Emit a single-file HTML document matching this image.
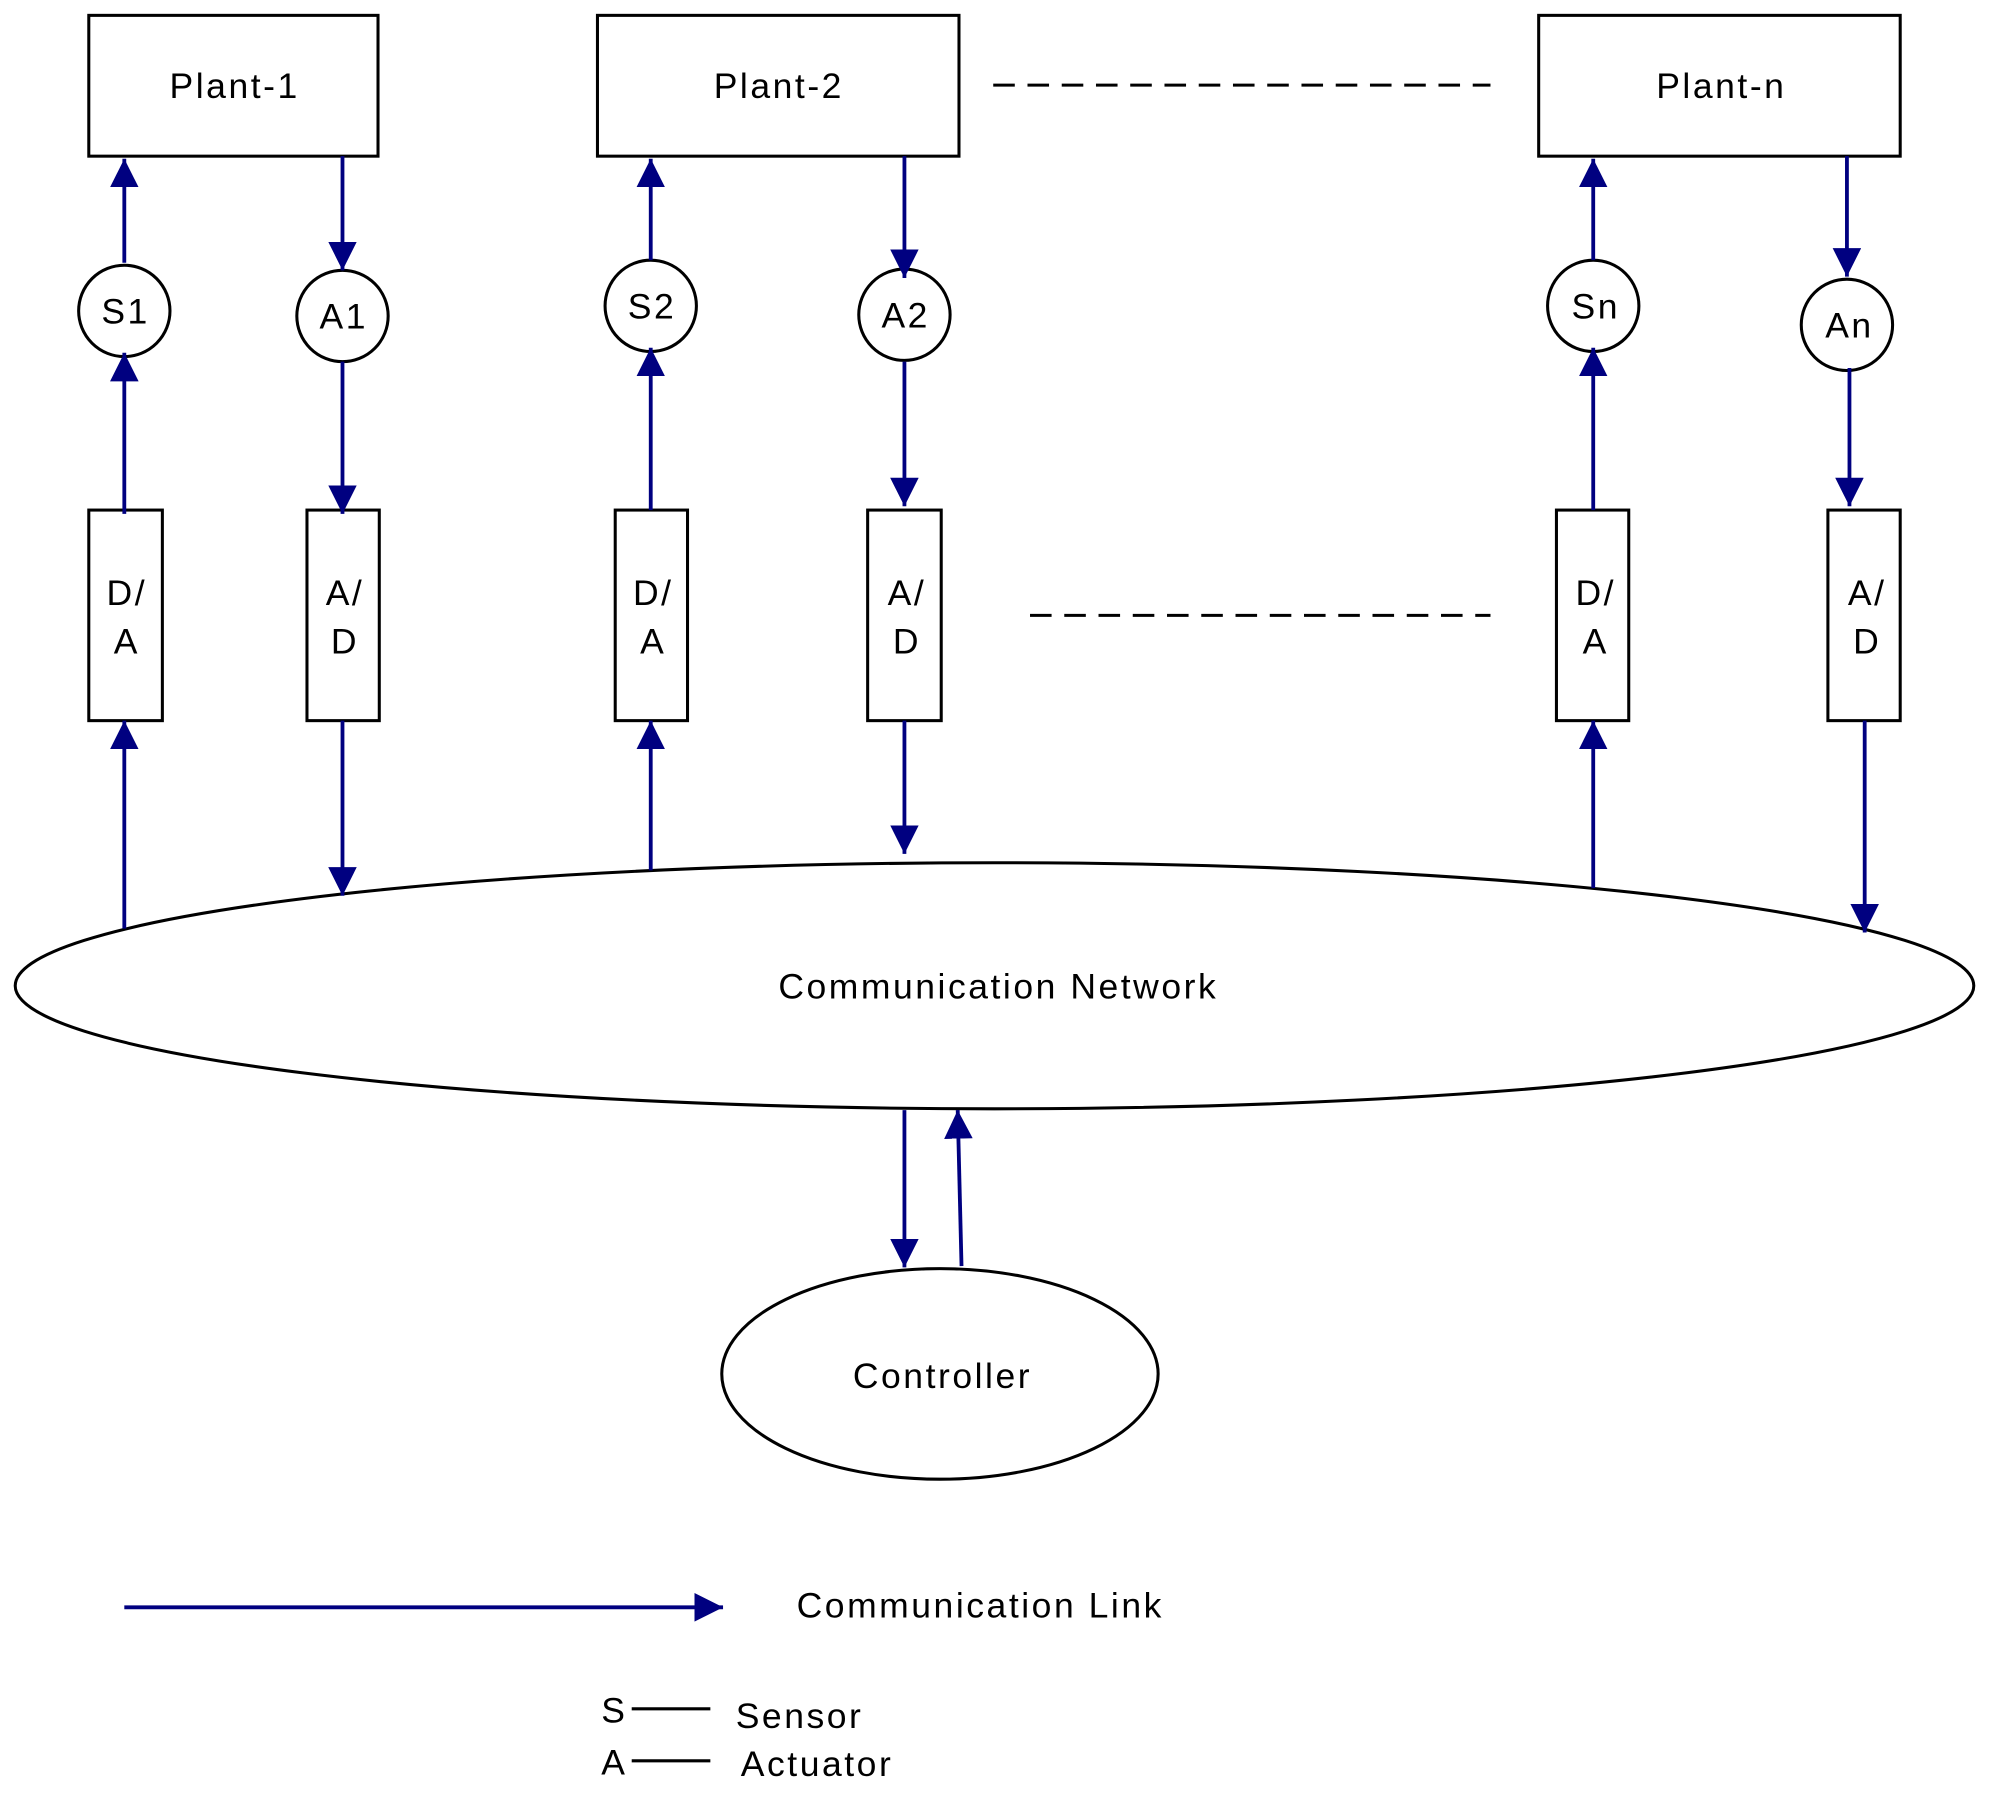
<!DOCTYPE html>
<html><head><meta charset="utf-8"><style>html,body{margin:0;padding:0;background:#fff;}svg{display:block;}text{font-family:"Liberation Sans",sans-serif;fill:#000;letter-spacing:2px;}</style></head>
<body>
<svg width="1989" height="1799" viewBox="0 0 1568 1418" xmlns="http://www.w3.org/2000/svg">
<defs>
<marker id="ah" viewBox="0 0 10 10" refX="10" refY="5" markerWidth="7.5" markerHeight="7.5" markerUnits="strokeWidth" orient="auto">
<path d="M0,0 L10,5 L0,10 Z" fill="#000080"/>
</marker>
</defs>
<g fill="none" stroke="#000" stroke-width="2.4">
<rect x="70" y="12" width="228" height="111"/>
<rect x="471" y="12" width="285" height="111"/>
<rect x="1213" y="12" width="285" height="111"/>
<line x1="783" y1="67" x2="1175" y2="67" stroke-dasharray="17,10"/>
<line x1="812" y1="485" x2="1175" y2="485" stroke-dasharray="17,10"/>
<circle cx="98" cy="245" r="36"/>
<circle cx="270" cy="249" r="36"/>
<circle cx="513" cy="241" r="36"/>
<circle cx="713" cy="248" r="36"/>
<circle cx="1256" cy="241" r="36"/>
<circle cx="1456" cy="256" r="36"/>
<rect x="70" y="402" width="58" height="166"/>
<rect x="242" y="402" width="57" height="166"/>
<rect x="485" y="402" width="57" height="166"/>
<rect x="684" y="402" width="58" height="166"/>
<rect x="1227" y="402" width="57" height="166"/>
<rect x="1441" y="402" width="57" height="166"/>
<ellipse cx="784" cy="777" rx="772" ry="97"/>
<ellipse cx="741" cy="1083" rx="172" ry="83"/>
<line x1="498" y1="1347" x2="560" y2="1347"/>
<line x1="498" y1="1388" x2="560" y2="1388"/>
</g>
<g stroke="#000080" stroke-width="3" marker-end="url(#ah)">
<line x1="98" y1="207" x2="98" y2="125"/>
<line x1="270" y1="123" x2="270" y2="213"/>
<line x1="98" y1="405" x2="98" y2="278"/>
<line x1="270" y1="285" x2="270" y2="405"/>
<line x1="98" y1="732" x2="98" y2="568"/>
<line x1="270" y1="568" x2="270" y2="706"/>
<line x1="513" y1="205" x2="513" y2="125"/>
<line x1="713" y1="123" x2="713" y2="219"/>
<line x1="513" y1="402" x2="513" y2="274"/>
<line x1="713" y1="285" x2="713" y2="399"/>
<line x1="513" y1="686" x2="513" y2="568"/>
<line x1="713" y1="568" x2="713" y2="673"/>
<line x1="1256" y1="205" x2="1256" y2="125"/>
<line x1="1456" y1="123" x2="1456" y2="218"/>
<line x1="1256" y1="402" x2="1256" y2="274"/>
<line x1="1458" y1="290" x2="1458" y2="399"/>
<line x1="1256" y1="700" x2="1256" y2="568"/>
<line x1="1470" y1="568" x2="1470" y2="735"/>
<line x1="713" y1="875" x2="713" y2="999"/>
<line x1="758" y1="998" x2="755" y2="875"/>
<line x1="98" y1="1267" x2="570" y2="1267"/>
</g>
<g font-size="28" text-anchor="middle">
<text x="185" y="77">Plant-1</text>
<text x="614" y="77">Plant-2</text>
<text x="1357" y="77">Plant-n</text>
<text x="99" y="255">S1</text>
<text x="271" y="259">A1</text>
<text x="514" y="251">S2</text>
<text x="714" y="258">A2</text>
<text x="1258" y="251">Sn</text>
<text x="1458" y="266">An</text>
<text x="100" y="477">D/</text><text x="100" y="515">A</text>
<text x="272" y="477">A/</text><text x="272" y="515">D</text>
<text x="515" y="477">D/</text><text x="515" y="515">A</text>
<text x="715" y="477">A/</text><text x="715" y="515">D</text>
<text x="1258" y="477">D/</text><text x="1258" y="515">A</text>
<text x="1472" y="477">A/</text><text x="1472" y="515">D</text>
<text x="787" y="787">Communication Network</text>
<text x="743" y="1094">Controller</text>
</g>
<g font-size="28">
<text x="628" y="1275">Communication Link</text>
<text x="474" y="1358">S</text>
<text x="580" y="1362">Sensor</text>
<text x="474" y="1399">A</text>
<text x="584" y="1400">Actuator</text>
</g>
</svg>
</body></html>
